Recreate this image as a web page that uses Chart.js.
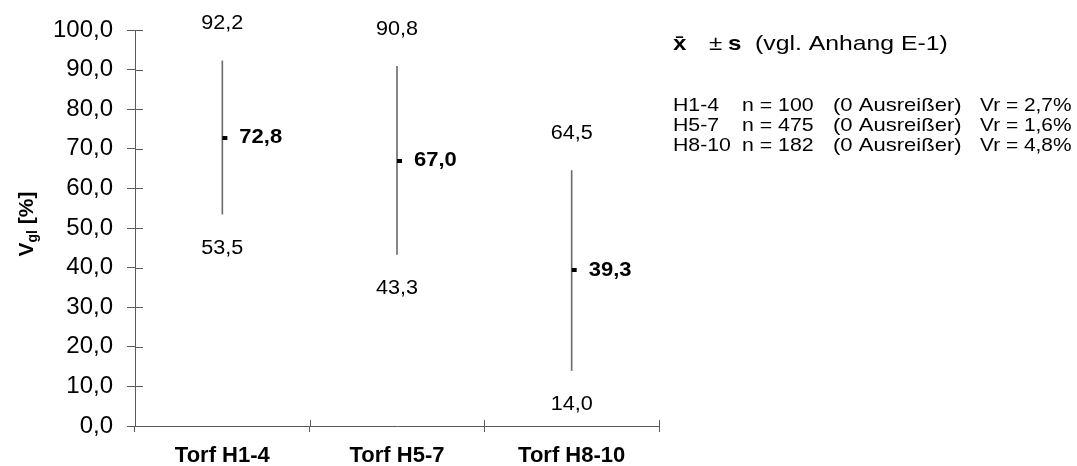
<!DOCTYPE html>
<html>
<head>
<meta charset="utf-8">
<script src="https://cdn.jsdelivr.net/npm/chart.js@4.4.1/dist/chart.umd.min.js"></script>
<style>
  html, body { margin: 0; padding: 0; background: #fff; }
  #wrap { width: 1077px; height: 466px; }
</style>
</head>
<body>
<div id="wrap"><canvas id="c" width="1077" height="466"></canvas></div>
<script>
// Peat groups and their statistics (mean ± standard deviation), values in %
const categories = ['Torf H1-4', 'Torf H5-7', 'Torf H8-10'];
const means = [72.8, 67.0, 39.3];
const upper = [92.2, 90.8, 64.5];
const lower = [53.5, 43.3, 14.0];

// Y axis range and tick step
const yMin = 0;
const yMax = 100;
const yStep = 10;

// Info block on the right
const groups = ['H1-4', 'H5-7', 'H8-10'];
const sampleCounts = [100, 475, 182];
const outliers = [0, 0, 0];
const vrValues = ['2,7', '1,6', '4,8'];

const FONT = '"Liberation Sans", Arial, Helvetica, sans-serif';
const AXIS_COLOR = '#5a5a5a';
const WHISKER_COLOR = '#6e6e6e';

const fmt = v => v.toFixed(1).replace('.', ',');

// Small dash used as the mean marker, sitting just right of the whisker line
const meanMarker = document.createElement('canvas');
meanMarker.width = 12;
meanMarker.height = 4;
(function () {
  const m = meanMarker.getContext('2d');
  m.fillStyle = '#000';
  m.fillRect(6, 0, 5, 4);
})();

function drawStretched(ctx, text, x, y, font, align, sx) {
  ctx.save();
  ctx.translate(x, y);
  ctx.scale(sx, 1);
  ctx.font = font;
  ctx.textAlign = align;
  ctx.textBaseline = 'middle';
  ctx.fillText(text, 0, 0);
  ctx.restore();
}

const decorations = {
  id: 'decorations',
  afterDraw(chart) {
    const ctx = chart.ctx;
    const xs = chart.scales.x;
    const ys = chart.scales.y;
    const area = chart.chartArea;
    ctx.save();

    // inner halves of the crossing tick marks
    ctx.strokeStyle = AXIS_COLOR;
    ctx.lineWidth = 1;
    ctx.beginPath();
    for (let v = yMin; v <= yMax; v += yStep) {
      const py = Math.round(ys.getPixelForValue(v)) + 0.5;
      ctx.moveTo(area.left, py);
      ctx.lineTo(area.left + 8, py);
    }
    const step = xs.getPixelForValue(1) - xs.getPixelForValue(0);
    for (let i = 0; i <= categories.length; i++) {
      const px = Math.round(xs.getPixelForValue(i) - step / 2) + 0.5;
      ctx.moveTo(px, area.bottom);
      ctx.lineTo(px, area.bottom - 6);
    }
    ctx.stroke();

    // value labels at whisker ends and beside the mean
    ctx.fillStyle = '#000';
    categories.forEach((c, i) => {
      const px = xs.getPixelForValue(i);
      drawStretched(ctx, fmt(upper[i]), px, ys.getPixelForValue(upper[i]) - 37,
        '20px ' + FONT, 'center', 1.08);
      drawStretched(ctx, fmt(lower[i]), px, ys.getPixelForValue(lower[i]) + 34,
        '20px ' + FONT, 'center', 1.08);
      drawStretched(ctx, fmt(means[i]), px + 17, ys.getPixelForValue(means[i]),
        'bold 20px ' + FONT, 'left', 1.1);
    });

    // y axis title: V with subscript "gl", then [%]
    ctx.save();
    const cy = (area.top + area.bottom) / 2 - 4;
    ctx.translate(25, cy);
    ctx.rotate(-Math.PI / 2);
    ctx.textBaseline = 'alphabetic';
    ctx.textAlign = 'left';
    const fMain = 'bold 21px ' + FONT;
    const fSub = 'bold 14px ' + FONT;
    ctx.font = fMain;
    const wV = ctx.measureText('V').width;
    ctx.font = fSub;
    const wSub = ctx.measureText('gl').width;
    ctx.font = fMain;
    const wRest = ctx.measureText(' [%]').width;
    const total = wV + wSub + wRest;
    let tx = -total / 2;
    const base = 8;
    ctx.font = fMain;
    ctx.fillText('V', tx, base);
    tx += wV;
    ctx.font = fSub;
    ctx.fillText('gl', tx, base + 4);
    tx += wSub;
    ctx.font = fMain;
    ctx.fillText(' [%]', tx, base);
    ctx.restore();

    // heading of the info block
    const hy = 44;
    drawStretched(ctx, 'x\u0304', 673, hy, 'bold 21px ' + FONT, 'left', 1.15);
    drawStretched(ctx, '\u00b1', 709, hy, '21px ' + FONT, 'left', 1.15);
    drawStretched(ctx, 's', 728, hy, 'bold 21px ' + FONT, 'left', 1.15);
    drawStretched(ctx, '(vgl. Anhang E-1)', 755, hy, '21px ' + FONT, 'left', 1.18);

    // one row per group
    groups.forEach((g, i) => {
      const ry = 106 + i * 20;
      const f = '19px ' + FONT;
      drawStretched(ctx, g, 673, ry, f, 'left', 1.12);
      drawStretched(ctx, 'n = ' + sampleCounts[i], 742, ry, f, 'left', 1.12);
      drawStretched(ctx, '(' + outliers[i] + ' Ausreißer)', 833, ry, f, 'left', 1.16);
      drawStretched(ctx, 'Vr = ' + vrValues[i] + '%', 980, ry, f, 'left', 1.1);
    });

    ctx.restore();
  }
};

new Chart(document.getElementById('c'), {
  type: 'bar',
  data: {
    labels: categories,
    datasets: [
      {
        label: 'Standardabweichung',
        data: lower.map((l, i) => [l, upper[i]]),
        backgroundColor: WHISKER_COLOR,
        borderWidth: 0,
        barThickness: 1,
        grouped: false,
        order: 2
      },
      {
        type: 'line',
        label: 'Mittelwert',
        data: means,
        showLine: false,
        pointStyle: meanMarker,
        pointRadius: 3,
        order: 1
      }
    ]
  },
  options: {
    responsive: false,
    animation: false,
    events: [],
    layout: { padding: { left: 0, right: 418, top: 30, bottom: 0 } },
    plugins: {
      legend: { display: false },
      tooltip: { enabled: false },
      title: { display: false }
    },
    scales: {
      x: {
        offset: true,
        grid: {
          display: true,
          offset: true,
          drawOnChartArea: false,
          drawTicks: true,
          tickLength: 6,
          color: AXIS_COLOR
        },
        border: { display: true, color: AXIS_COLOR },
        ticks: {
          color: '#000',
          font: { family: FONT, size: 22, weight: 'bold' },
          padding: 11,
          maxRotation: 0
        },
        afterFit: s => { s.height = 40; }
      },
      y: {
        min: yMin,
        max: yMax,
        grid: {
          display: true,
          drawOnChartArea: false,
          drawTicks: true,
          tickLength: 8,
          color: AXIS_COLOR
        },
        border: { display: true, color: AXIS_COLOR },
        ticks: {
          stepSize: yStep,
          color: '#000',
          font: { family: FONT, size: 24 },
          padding: 14,
          callback: v => fmt(v)
        },
        afterFit: s => { s.width = 135; }
      }
    }
  },
  plugins: [decorations]
});
</script>
</body>
</html>
